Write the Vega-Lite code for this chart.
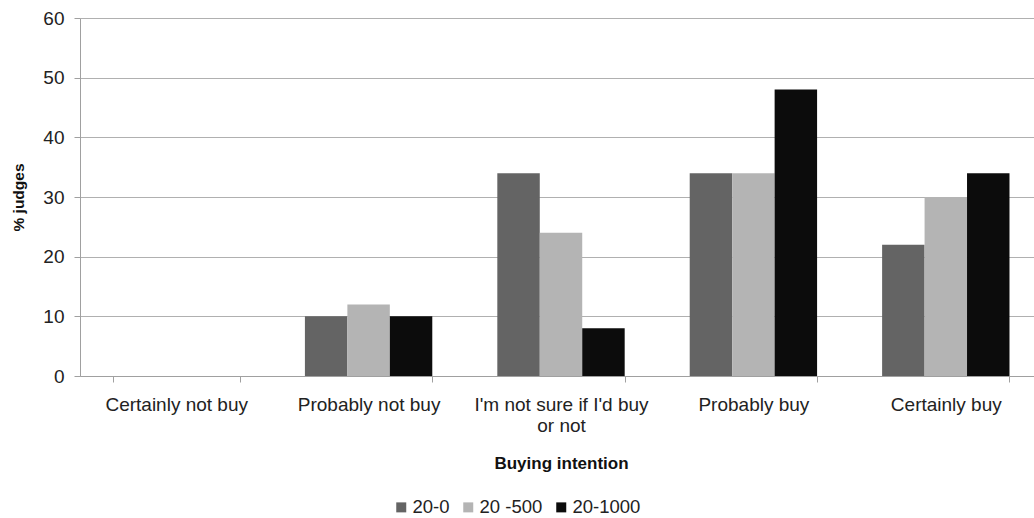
{
  "$schema": "https://vega.github.io/schema/vega-lite/v6.json",
  "autosize": "none",
  "width": 962,
  "height": 358,
  "padding": {"left": 80, "top": 18, "right": 0, "bottom": 142},
  "background": "white",
  "config": {
    "font": "Liberation Sans",
    "view": {"stroke": null}
  },
  "data": {
    "values": [
      {"intention": "Certainly not buy", "group": "20-0", "pct": 0},
      {"intention": "Certainly not buy", "group": "20 -500", "pct": 0},
      {"intention": "Certainly not buy", "group": "20-1000", "pct": 0},
      {"intention": "Probably not buy", "group": "20-0", "pct": 10},
      {"intention": "Probably not buy", "group": "20 -500", "pct": 12},
      {"intention": "Probably not buy", "group": "20-1000", "pct": 10},
      {"intention": "I'm not sure if I'd buy or not", "group": "20-0", "pct": 34},
      {"intention": "I'm not sure if I'd buy or not", "group": "20 -500", "pct": 24},
      {"intention": "I'm not sure if I'd buy or not", "group": "20-1000", "pct": 8},
      {"intention": "Probably buy", "group": "20-0", "pct": 34},
      {"intention": "Probably buy", "group": "20 -500", "pct": 34},
      {"intention": "Probably buy", "group": "20-1000", "pct": 48},
      {"intention": "Certainly buy", "group": "20-0", "pct": 22},
      {"intention": "Certainly buy", "group": "20 -500", "pct": 30},
      {"intention": "Certainly buy", "group": "20-1000", "pct": 34}
    ]
  },
  "mark": {"type": "bar"},
  "encoding": {
    "x": {
      "field": "intention",
      "type": "nominal",
      "sort": null,
      "scale": {"paddingInner": 0.338, "paddingOuter": 0.169},
      "axis": {
        "title": "Buying intention",
        "titleFontSize": 17,
        "titleFontWeight": "bold",
        "titleColor": "#111",
        "titlePadding": 20,
        "labelAngle": 0,
        "labelFontSize": 19,
        "labelColor": "#222",
        "labelPadding": 13,
        "labelLimit": 300,
        "labelLineHeight": 21,
        "labelExpr": "datum.label == \"I'm not sure if I'd buy or not\" ? [\"I'm not sure if I'd buy\", 'or not'] : datum.label",
        "tickBand": "extent",
        "tickColor": "#a0a0a0",
        "tickSize": 6,
        "domainColor": "#a0a0a0",
        "grid": false
      }
    },
    "xOffset": {"field": "group", "type": "nominal", "sort": ["20-0", "20 -500", "20-1000"], "scale": {"paddingInner": 0}},
    "y": {
      "field": "pct",
      "type": "quantitative",
      "scale": {"domain": [0, 60]},
      "axis": {
        "title": "% judges",
        "titleFontSize": 15.5,
        "titleFontWeight": "bold",
        "titleColor": "#111",
        "titlePadding": 16,
        "values": [0, 10, 20, 30, 40, 50, 60],
        "labelFontSize": 19,
        "labelColor": "#222",
        "labelPadding": 10,
        "gridColor": "#b0b0b0",
        "tickColor": "#a0a0a0",
        "tickSize": 6,
        "domainColor": "#a0a0a0"
      }
    },
    "color": {
      "field": "group",
      "type": "nominal",
      "sort": ["20-0", "20 -500", "20-1000"],
      "scale": {"domain": ["20-0", "20 -500", "20-1000"], "range": ["#646464", "#b4b4b4", "#0c0c0c"]},
      "legend": {
        "title": null,
        "orient": "none",
        "direction": "horizontal",
        "legendX": 312,
        "legendY": 480,
        "symbolType": "square",
        "symbolSize": 100,
        "symbolStrokeWidth": 0,
        "labelFontSize": 18.5,
        "labelColor": "#222",
        "columnPadding": 9,
        "labelOffset": 2
      }
    }
  }
}
